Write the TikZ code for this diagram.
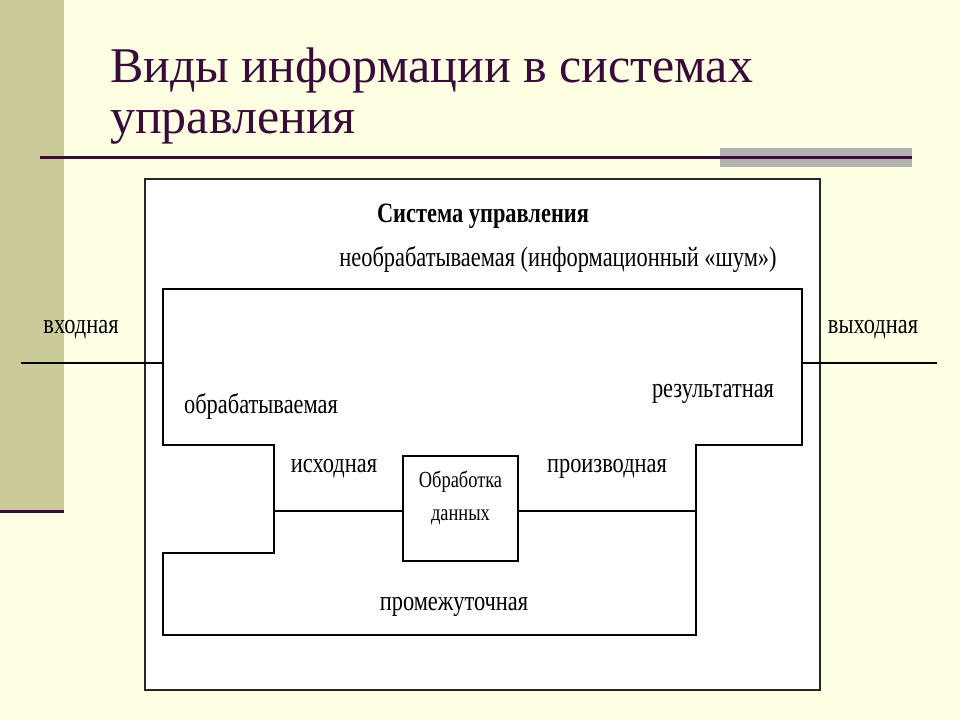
\documentclass[tikz,border=0pt]{standalone}
\usepackage{fontspec}
\setmainfont{Liberation Serif}
\newfontfamily\narrowserif[FakeStretch=0.8]{Liberation Serif}
\definecolor{slidebg}{HTML}{FFFFE3}
\definecolor{olivebar}{HTML}{CBCB9A}
\definecolor{titlepurple}{HTML}{3A0A3A}
\definecolor{rulegray}{HTML}{B2B2B2}

\tikzset{
  lbl/.style={inner sep=0pt, anchor=base, font=\narrowserif\fontsize{28}{30}\selectfont},
  smalllbl/.style={lbl, font=\narrowserif\fontsize{23}{26}\selectfont},
  flow/.style={line width=2.4pt},
  headline/.style={inner sep=0pt, anchor=base west, text=titlepurple, font=\fontsize{50}{54}\selectfont}
}

\begin{document}
\begin{tikzpicture}[x=1pt, y=-1pt]
        \useasboundingbox (0,0) rectangle (960,720);
        \fill[slidebg] (0,0) rectangle (960,720);
        \fill[olivebar] (0,0) rectangle (64,512);
        \draw[titlepurple, line width=3pt] (0,511) -- (64,511);
        \fill[rulegray] (720,148) rectangle (912,167);
        \draw[titlepurple, line width=3pt] (40,157) -- (912,157);
        \node[headline] (title1) at (110,82) {Виды информации в системах};
        \node[headline] (title2) at (110,133) {управления};

        % system frame
        \draw[fill=white, draw=black!85, line width=1.3pt] (145,179) rectangle (820,690);
        \node[lbl, font=\narrowserif\bfseries\fontsize{28}{30}\selectfont] (sys) at (483,222) {Система управления};
        \node[lbl] (noise) at (558,266) {необрабатываемая (информационный «шум»)};

        % processed information
        \draw[flow] (163,289) -- (802,289) -- (802,445) -- (696,445) -- (696,635)
          -- (163,635) -- (163,553) -- (274,553) -- (274,445) -- (163,445) -- cycle;
        \node[draw, flow, minimum width=115, minimum height=105] (proc) at (460.5,508.5) {};
        \node[smalllbl] (procA) at (460.5,487) {Обработка};
        \node[smalllbl] (procB) at (460.5,520) {данных};

        \coordinate (inL) at (21,363);
        \coordinate (inR) at (163,363);
        \coordinate (outL) at (802,363);
        \coordinate (outR) at (937,363);
        \coordinate (srcT) at (274,511);
        \coordinate (derT) at (696,511);
        \draw[flow] (inL) -- (inR);
        \draw[flow] (outL) -- (outR);
        \draw[flow] (srcT) -- (srcT -| proc.west);
        \draw[flow] (derT -| proc.east) -- (derT);

        \node[lbl] (inp) at (81,333) {входная};
        \node[lbl] (outp) at (873,333) {выходная};
        \node[lbl] (proc1) at (261,413) {обрабатываемая};
        \node[lbl] (res) at (713,397) {результатная};
        \node[lbl] (src) at (334,472) {исходная};
        \node[lbl] (der) at (607,472) {производная};
        \node[lbl] (mid) at (454,610) {промежуточная};
      \end{tikzpicture}
\end{document}
